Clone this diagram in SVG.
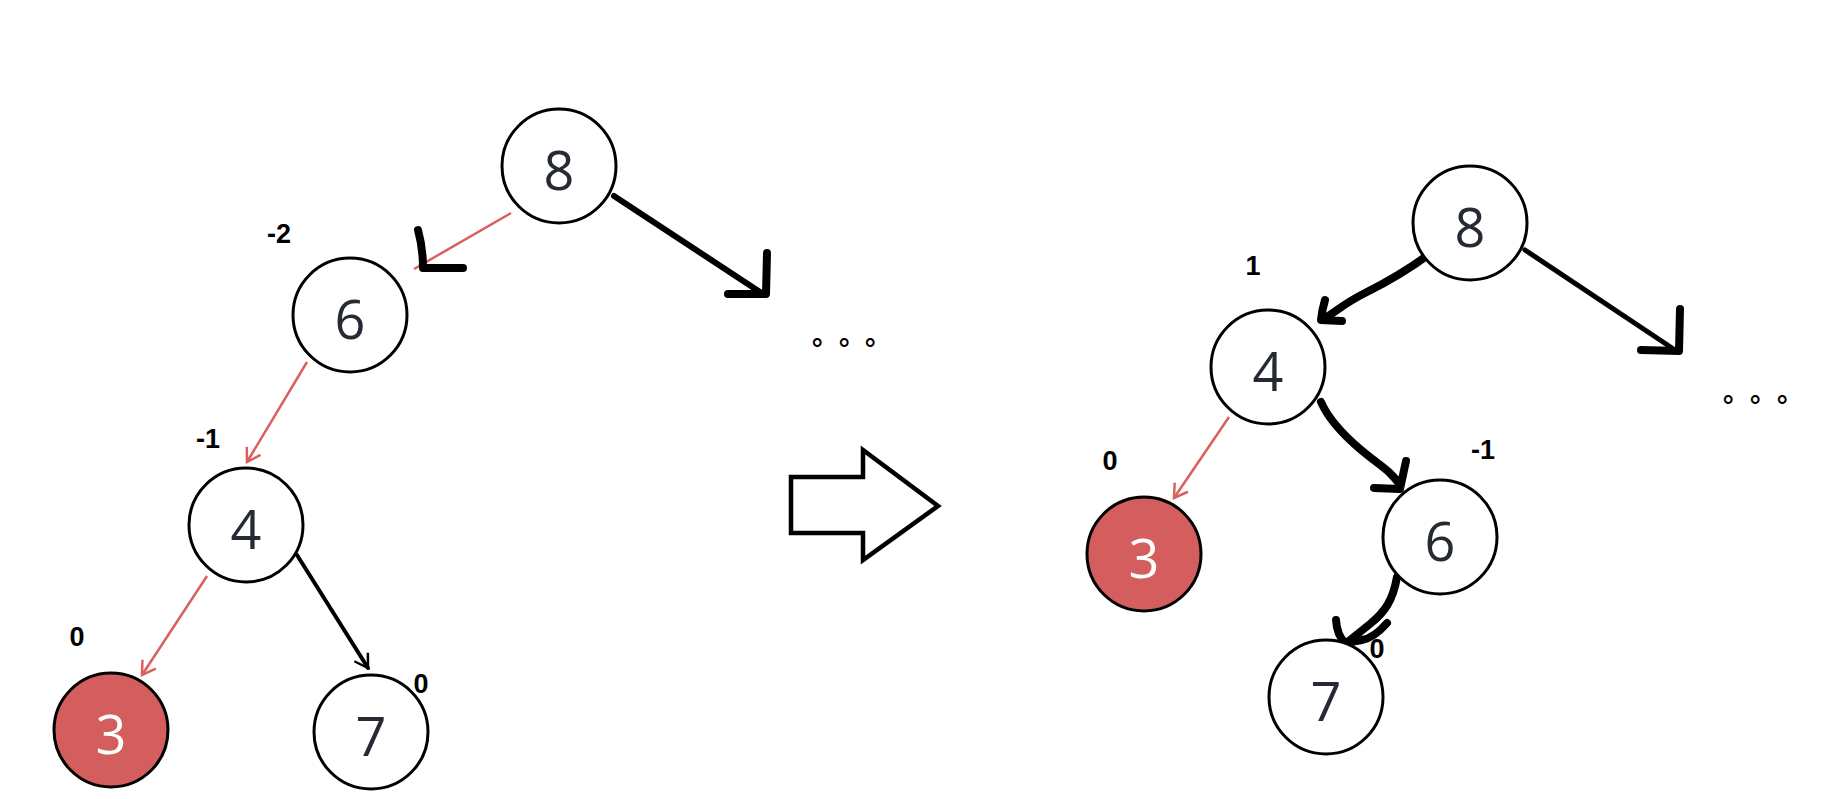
<svg xmlns="http://www.w3.org/2000/svg" width="1831" height="799" viewBox="0 0 1831 799">
<style>
.node{fill:#ffffff;stroke:#000;stroke-width:3}
.red{fill:#d35e5d}
.num{font-family:"Open Sans","Noto Sans",sans-serif;font-size:54px;fill:#262a33;text-anchor:middle}
.num.w{fill:#ffffff}
.bf{font-family:"Liberation Sans",Arial,sans-serif;font-weight:bold;font-size:27px;fill:#000;text-anchor:middle}
.dots{font-family:"Noto Sans CJK SC",sans-serif;font-weight:bold;font-size:27px;fill:#000}
.rl{fill:none;stroke:#d9605e;stroke-width:2.5}
.bl{fill:none;stroke:#000;stroke-linecap:round;stroke-linejoin:round}
</style>
<defs>
<marker id="mr" markerUnits="userSpaceOnUse" viewBox="-16 -10 18 20" refX="0" refY="0" markerWidth="18" markerHeight="20" orient="auto" overflow="visible">
<path d="M-13,-8 L0,0 L-13,8" fill="none" stroke="#d9605e" stroke-width="2.5"/>
</marker>
<marker id="mb" markerUnits="userSpaceOnUse" viewBox="-16 -10 18 20" refX="0" refY="0" markerWidth="18" markerHeight="20" orient="auto" overflow="visible">
<path d="M-13,-8 L0,0 L-13,8" fill="none" stroke="#000" stroke-width="2.5"/>
</marker>
</defs>
<rect width="1831" height="799" fill="#fff"/>

<g id="connectors">
<!-- left tree -->
<line class="rl" x1="511" y1="213" x2="414" y2="269"/>
<path class="bl" stroke-width="8" d="M418,230 Q423,248 423,268 L463,268"/>
<line class="bl" stroke-width="6" x1="614" y1="196" x2="760" y2="292"/>
<path class="bl" stroke-width="8" d="M767,253 L766,294 L728,294"/>
<line class="rl" x1="307" y1="362" x2="247" y2="462" marker-end="url(#mr)"/>
<line class="rl" x1="207" y1="576" x2="142" y2="675" marker-end="url(#mr)"/>
<line class="bl" stroke-width="4" x1="297" y1="555" x2="368" y2="668" marker-end="url(#mb)"/>
<!-- right tree -->
<path class="bl" stroke-width="8" d="M1428,255 C1405,272 1385,283 1365,293 S1338,310 1325,318"/>
<path class="bl" stroke-width="8" d="M1325,300 Q1322,310 1321,320 L1342,321"/>
<path class="bl" stroke-width="8" d="M1321,402 C1328,418 1340,432 1360,449 S1390,470 1400,485"/>
<path class="bl" stroke-width="8" d="M1406,461 L1400,489 L1374,488"/>
<path class="bl" stroke-width="8" d="M1397,577 C1393,600 1385,612 1370,624 S1350,640 1345,644"/>
<path class="bl" stroke-width="8" d="M1336,620 Q1337,635 1345,643 M1387,623 Q1374,638 1362,640 L1345,643"/>
<line class="rl" x1="1229" y1="417" x2="1174" y2="498" marker-end="url(#mr)"/>
<line class="bl" stroke-width="5" x1="1525" y1="250" x2="1672" y2="348"/>
<path class="bl" stroke-width="8" d="M1680,309 L1679,351 L1641,350"/>
</g>

<g id="transform-arrow">
<polygon points="791,477 863,477 863,450 938,506 863,560 863,533 791,533" fill="#fff" stroke="#000" stroke-width="4.5" stroke-linejoin="miter"/>
</g>

<!-- left tree nodes -->
<g id="L8"><circle class="node" cx="559" cy="166" r="57"/><text class="num" x="559" y="190">8</text></g>
<g id="L6"><circle class="node" cx="350" cy="315" r="57"/><text class="num" x="350" y="339">6</text><text class="bf" x="279" y="243">-2</text></g>
<g id="L4"><circle class="node" cx="246" cy="525" r="57"/><text class="num" x="246" y="549">4</text><text class="bf" x="208" y="448">-1</text></g>
<g id="L3"><circle class="node red" cx="111" cy="730" r="57"/><text class="num w" x="111" y="754">3</text><text class="bf" x="77" y="646">0</text></g>
<g id="L7"><circle class="node" cx="371" cy="732" r="57"/><text class="num" x="371" y="756">7</text><text class="bf" x="421" y="693">0</text></g>
<g id="Ldots"><text class="dots" x="812 839 865" y="345">。。。</text></g>

<!-- right tree nodes -->
<g id="R8"><circle class="node" cx="1470" cy="223" r="57"/><text class="num" x="1470" y="247">8</text></g>
<g id="R4"><circle class="node" cx="1268" cy="367" r="57"/><text class="num" x="1268" y="391">4</text><text class="bf" x="1253" y="275">1</text></g>
<g id="R3"><circle class="node red" cx="1144" cy="554" r="57"/><text class="num w" x="1144" y="578">3</text><text class="bf" x="1110" y="470">0</text></g>
<g id="R6"><circle class="node" cx="1440" cy="537" r="57"/><text class="num" x="1440" y="561">6</text><text class="bf" x="1483" y="459">-1</text></g>
<g id="R7"><circle class="node" cx="1326" cy="697" r="57"/><text class="num" x="1326" y="721">7</text><text class="bf" x="1377" y="658">0</text></g>
<g id="Rdots"><text class="dots" x="1723 1750 1777" y="402">。。。</text></g>
</svg>
